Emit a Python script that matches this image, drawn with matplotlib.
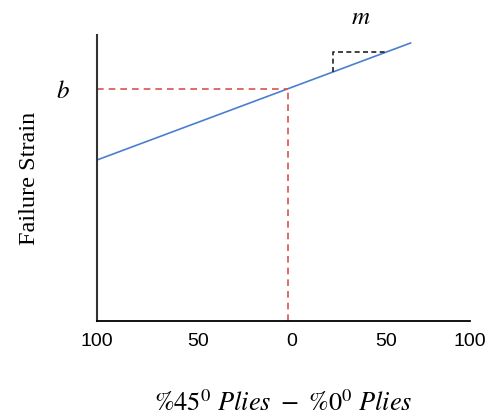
import matplotlib.pyplot as plt

plt.rcParams['mathtext.fontset'] = 'stix'

# data (x: % difference, y: arbitrary strain units)
line_x = [-100, 64]
line_y = [161, 278]
b_value = 232
tri_x = [23.4, 23.4, 50.5]
tri_y = [249, 269, 269]
tick_pos = [-100, -47, 2, 51, 95]
tick_labels = ['100', '50', '0', '50', '100']

fig = plt.figure(figsize=(4.91, 4.16), dpi=100)
ax = fig.add_axes([0.1976, 0.2284, 0.7594, 0.6875])

ax.plot(line_x, line_y, color='#4a7fd0', lw=1.2)
ax.plot([-100, 0], [b_value, b_value], color='#d9534f', lw=1.2, ls=(0, (4, 3)))
ax.plot([0, 0], [0, b_value], color='#d9534f', lw=1.2, ls=(0, (4, 3)))
ax.plot(tri_x, tri_y, color='#222222', lw=1.2, ls=(0, (3, 2)))

ax.text(38, 304, '$m$', fontsize=18, ha='center', va='center')
ax.text(-118, 230, '$b$', fontsize=18, ha='center', va='center')

ax.set_xlim(-100, 94)
ax.set_ylim(0, 286)
ax.set_xticks(tick_pos)
ax.set_xticklabels(tick_labels, fontfamily='Liberation Sans', fontsize=14)
ax.set_yticks([])
ax.tick_params(axis='x', length=0, pad=9)

for s in ['top', 'right']:
    ax.spines[s].set_visible(False)
ax.spines['left'].set_color('#333333')
ax.spines['left'].set_linewidth(1.5)
ax.spines['bottom'].set_linewidth(1.3)

ax.set_ylabel('Failure Strain', fontfamily='Liberation Serif', fontsize=17.5, labelpad=41)
ax.set_xlabel(r'$\%45^0\ Plies\ -\ \%0^0\ Plies$', fontsize=19, labelpad=29)

fig.savefig('out.png', dpi=100)
